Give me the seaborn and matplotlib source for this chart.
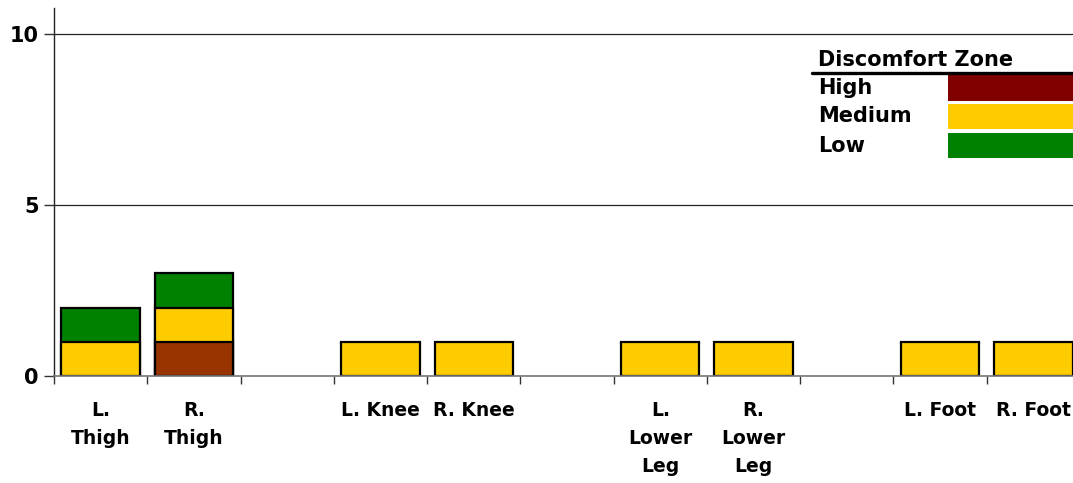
import matplotlib
matplotlib.use("Agg")
import matplotlib.pyplot as plt
from matplotlib.patches import Rectangle
from matplotlib.lines import Line2D
import numpy as np
import pandas as pd
import seaborn as sns

# Body regions (blank slots separate the groups)
slots = ["L. Thigh", "R. Thigh", "gap1", "L. Knee", "R. Knee", "gap2",
         "L. Lower Leg", "R. Lower Leg", "gap3", "L. Foot", "R. Foot"]
tick_labels = ["L.\nThigh", "R.\nThigh", "", "L. Knee", "R. Knee", "",
               "L.\nLower\nLeg", "R.\nLower\nLeg", "", "L. Foot", "R. Foot"]

# Counts per discomfort zone
high = [0, 1, 0, 0, 0, 0, 0, 0, 0, 0, 0]
medium = [1, 1, 0, 1, 1, 0, 1, 1, 0, 1, 1]
low = [1, 1, 0, 0, 0, 0, 0, 0, 0, 0, 0]

zones = ["High", "Medium", "Low"]
bar_colors = {"High": "#993300", "Medium": "#FFCC00", "Low": "#008000"}
legend_colors = {"High": "#800000", "Medium": "#FFCC00", "Low": "#008000"}

df = pd.DataFrame({"slot": slots, "High": high, "Medium": medium, "Low": low})
# cumulative heights: bottom segment is High, then Medium, then Low
df["cum_High"] = df["High"]
df["cum_Medium"] = df["cum_High"] + df["Medium"]
df["cum_Low"] = df["cum_Medium"] + df["Low"]

sns.set_style("white")
plt.rcParams["font.family"] = ["DejaVu Sans"]
plt.rcParams["font.weight"] = "bold"
plt.rcParams["text.color"] = "black"
plt.rcParams["xtick.labelcolor"] = "black"
plt.rcParams["ytick.labelcolor"] = "black"

W, H = 1073, 483
fig = plt.figure(figsize=(W / 100, H / 100), dpi=100)
# plot area runs slightly past the right edge of the canvas
ax = fig.add_axes([54 / W, 1 - 376 / H, (1080 - 54) / W, (376 - 8) / H])

# draw tallest (cumulative) layer first so lower segments overlay it
for zone in reversed(zones):
    col = "cum_" + zone
    seg = df[df[zone] > 0]
    sns.barplot(data=seg, x="slot", y=col, order=slots, color=bar_colors[zone],
                saturation=1, width=0.84, edgecolor="black", linewidth=1.6,
                ax=ax)

ax.set_xlim(-0.5, len(slots) - 0.5)
ax.set_ylim(0, 10.76)
ax.set_xlabel("")
ax.set_ylabel("")

# y axis
ax.set_yticks([0, 5, 10])
ax.set_yticklabels(["0", "5", "10"], fontsize=15, fontweight="bold")
ax.tick_params(axis="y", direction="out", length=7, width=1, color="#333333",
               pad=4, left=True)
for yv in [5, 10]:
    ax.axhline(yv, color="#222222", linewidth=0.9, zorder=0)

# x axis: labels centred on slots, tick marks on slot boundaries
ax.set_xticks(np.arange(len(slots)))
ax.set_xticklabels(tick_labels, fontsize=13.5, fontweight="bold",
                   linespacing=1.6, va="top")
ax.tick_params(axis="x", which="major", length=0, pad=18)
ax.set_xticks(np.arange(len(slots) + 1) - 0.5, minor=True)
ax.tick_params(axis="x", which="minor", direction="out", length=6, width=1,
               color="#333333", bottom=True)

for side in ["top", "right"]:
    ax.spines[side].set_visible(False)
ax.spines["left"].set_color("#222222")
ax.spines["left"].set_linewidth(1)
ax.spines["bottom"].set_color("#777777")
ax.spines["bottom"].set_linewidth(1.2)

# legend table in the upper right
def fx(px):
    return px / W

def fy(py):
    return 1 - py / H

fig.text(fx(818), fy(60), "Discomfort Zone", fontsize=15, fontweight="bold",
         ha="left", va="center")
fig.add_artist(Line2D([fx(812), fx(1073)], [fy(73), fy(73)], color="black",
                      linewidth=2.4, transform=fig.transFigure))
rows = [("High", 75, 101), ("Medium", 104, 129), ("Low", 133, 158)]
for name, top, bot in rows:
    fig.add_artist(Rectangle((fx(948), fy(bot)), fx(1073) - fx(948),
                             fy(top) - fy(bot), transform=fig.transFigure,
                             facecolor=legend_colors[name], edgecolor="none"))
    fig.text(fx(818), fy((top + bot) / 2), name, fontsize=15,
             fontweight="bold", ha="left", va="center")

fig.savefig("out.png", dpi=100)
